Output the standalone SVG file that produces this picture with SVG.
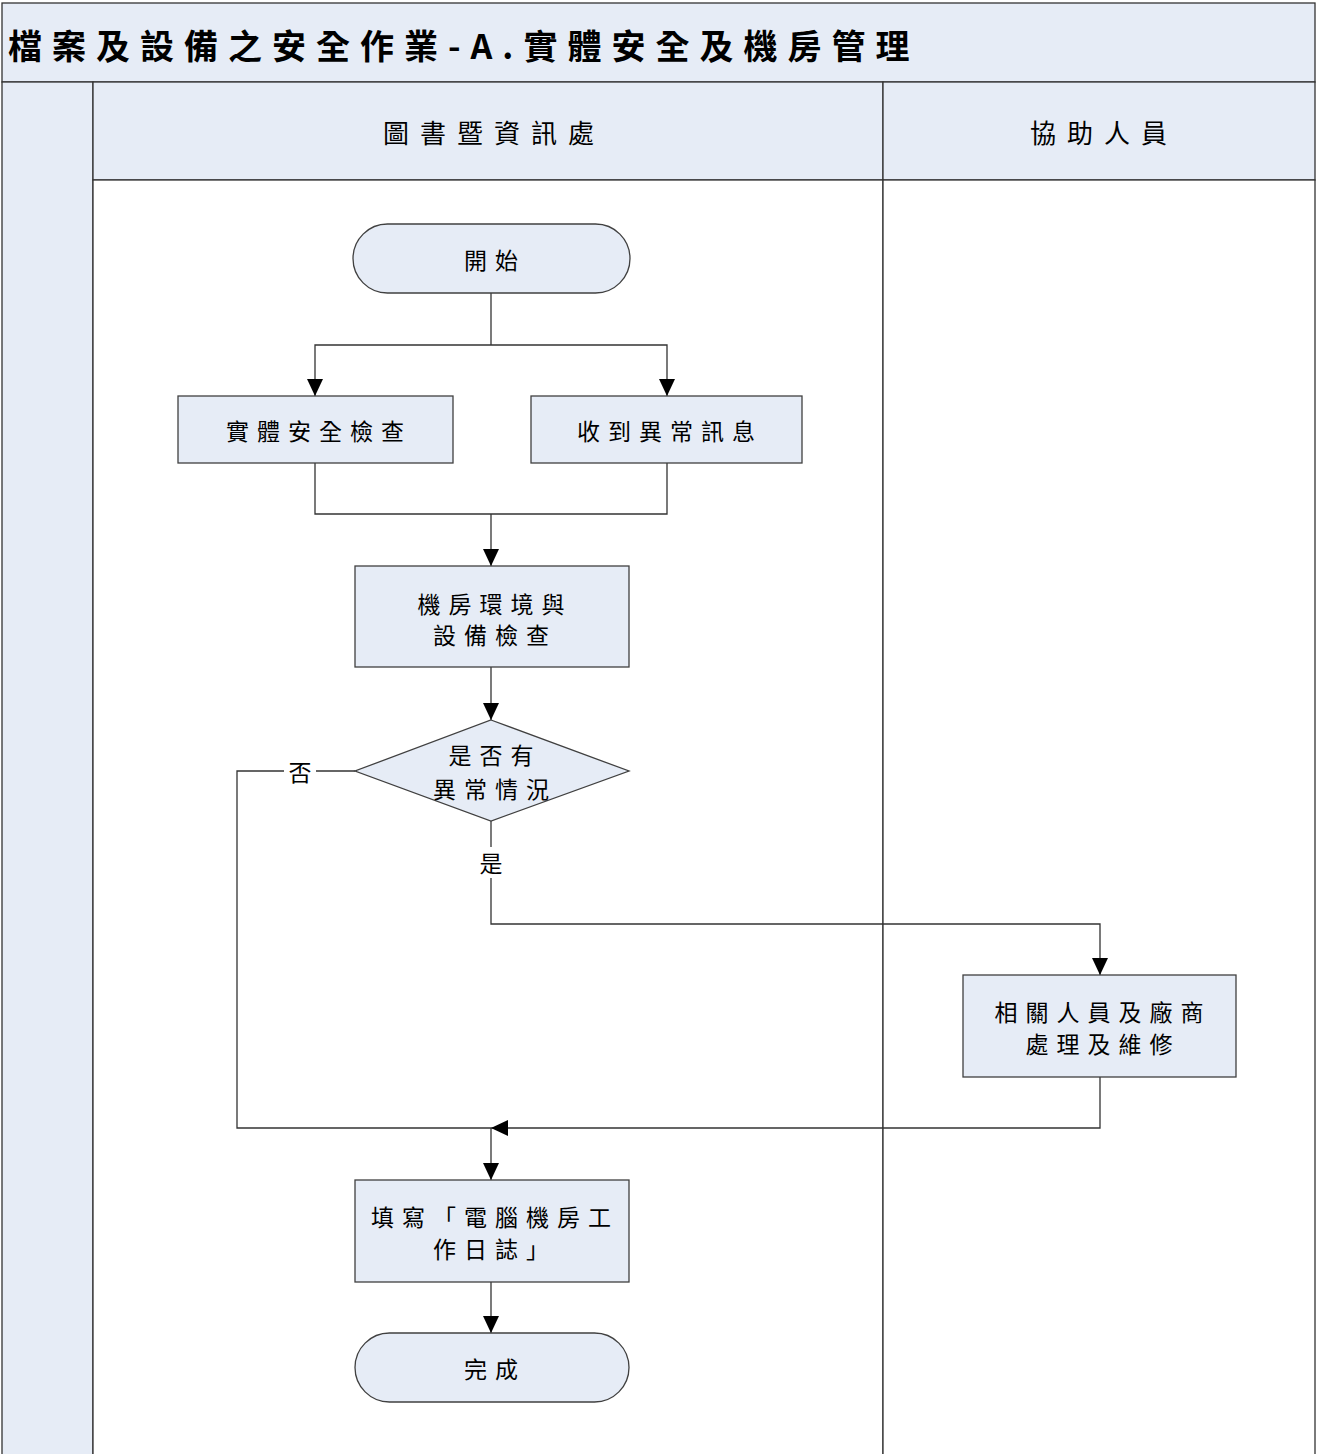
<svg xmlns="http://www.w3.org/2000/svg" width="1317" height="1454" viewBox="0 0 1317 1454">
<defs>
<style>
text{font-family:"Noto Sans CJK TC","Noto Sans CJK SC",sans-serif;fill:#000;text-anchor:middle;dominant-baseline:central}
.band{fill:#E6ECF6;stroke:#333;stroke-width:1.3}
.body{fill:#fff;stroke:#333;stroke-width:1.3}
.node{fill:#E6ECF6;stroke:#404040;stroke-width:1.3}
.t{font-size:23px;letter-spacing:8px}
.lane{font-size:26px;letter-spacing:11px}
.conn{fill:none;stroke:#333;stroke-width:1.3}
.lbl{font-size:23px}
</style>
<marker id="arr" markerUnits="userSpaceOnUse" markerWidth="18" markerHeight="18" refX="17" refY="8" orient="auto">
<path d="M0,0 L17,8 L0,16 z" fill="#000"/>
</marker>
</defs>

<g id="frame">
<rect class="band" x="2" y="3" width="1313" height="79"/>
<rect class="band" x="2" y="82" width="91" height="1380"/>
<rect class="band" x="93" y="82" width="790" height="98"/>
<rect class="band" x="883" y="82" width="432" height="98"/>
<rect class="body" x="93" y="180" width="790" height="1282"/>
<rect class="body" x="883" y="180" width="432" height="1282"/>
<text x="8" y="44" style="text-anchor:start;font-size:34px;font-weight:bold;letter-spacing:10px">檔案及設備之安全作業-A.實體安全及機房管理</text>
<text class="lane" x="494" y="131">圖書暨資訊處</text>
<text class="lane" x="1104" y="131">協助人員</text>
</g>

<g id="connectors">
<polyline class="conn" points="491,293 491,345"/>
<polyline class="conn" points="491,345 315,345 315,396" marker-end="url(#arr)"/>
<polyline class="conn" points="491,345 667,345 667,396" marker-end="url(#arr)"/>
<polyline class="conn" points="315,463 315,514 667,514 667,463"/>
<polyline class="conn" points="491,514 491,566" marker-end="url(#arr)"/>
<polyline class="conn" points="491,667 491,720" marker-end="url(#arr)"/>
<polyline class="conn" points="355,771 316,771"/>
<polyline class="conn" points="284,771 237,771 237,1128 491,1128"/>
<polyline class="conn" points="491,821 491,847"/>
<polyline class="conn" points="491,878 491,924 1100,924 1100,975" marker-end="url(#arr)"/>
<polyline class="conn" points="1100,1077 1100,1128 491,1128" marker-end="url(#arr)"/>
<polyline class="conn" points="491,1128 491,1180" marker-end="url(#arr)"/>
<polyline class="conn" points="491,1282 491,1333" marker-end="url(#arr)"/>
<text class="lbl" x="300" y="771">否</text>
<text class="lbl" x="491" y="862">是</text>
</g>

<g id="start">
<rect class="node" x="353" y="224" width="277" height="69" rx="34.5"/>
<text class="t" x="495" y="259">開始</text>
</g>
<g id="physical-check">
<rect class="node" x="178" y="396" width="275" height="67"/>
<text class="t" x="319" y="430">實體安全檢查</text>
</g>
<g id="receive-alert">
<rect class="node" x="531" y="396" width="271" height="67"/>
<text class="t" x="670" y="430">收到異常訊息</text>
</g>
<g id="room-check">
<rect class="node" x="355" y="566" width="274" height="101"/>
<text class="t" x="495" y="603">機房環境與</text>
<text class="t" x="495" y="634">設備檢查</text>
</g>
<g id="decision">
<polygon class="node" points="491,720 629,771 491,821 355,771"/>
<text class="t" x="495" y="754">是否有</text>
<text class="t" x="495" y="788">異常情況</text>
</g>
<g id="repair">
<rect class="node" x="963" y="975" width="273" height="102"/>
<text class="t" x="1103" y="1011">相關人員及廠商</text>
<text class="t" x="1103" y="1043">處理及維修</text>
</g>
<g id="log">
<rect class="node" x="355" y="1180" width="274" height="102"/>
<text class="t" x="495" y="1216">填寫「電腦機房工</text>
<text class="t" x="495" y="1248">作日誌」</text>
</g>
<g id="end">
<rect class="node" x="355" y="1333" width="274" height="69" rx="34.5"/>
<text class="t" x="495" y="1368">完成</text>
</g>
</svg>
